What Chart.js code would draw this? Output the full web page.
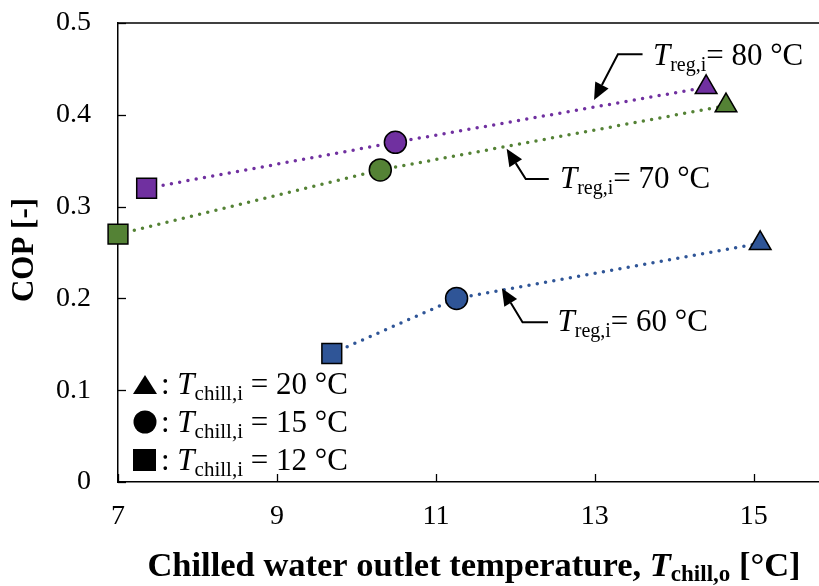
<!DOCTYPE html>
<html>
<head>
<meta charset="utf-8">
<script src="https://cdn.jsdelivr.net/npm/chart.js@4.4.1/dist/chart.umd.min.js"></script>
<style>
  html, body { margin: 0; padding: 0; background: #fff; }
  #wrap { width: 819px; height: 586px; }
</style>
</head>
<body>
<div id="wrap"><canvas id="c" width="819" height="586"></canvas></div>
<script>
// Axis ticks
const xTicks = [7, 9, 11, 13, 15];
const yTicks = [0, 0.1, 0.2, 0.3, 0.4, 0.5];

// Chilled water inlet temperature of each point (marker shape)
const chillInlet = [12, 15, 20];
const markerStyles = ['rect', 'circle', 'triangle'];

// Regeneration inlet temperatures
const regTemps = [80, 70, 60];

// Chilled water outlet temperature [°C] and COP [-] per regeneration temperature
const outlet80 = [7.36, 10.49, 14.40];
const cop80    = [0.32, 0.37, 0.43];
const outlet70 = [7.00, 10.30, 14.65];
const cop70    = [0.27, 0.34, 0.41];
const outlet60 = [9.69, 11.26, 15.08];
const cop60    = [0.14, 0.20, 0.26];

const SERIF = "'Liberation Serif', 'Times New Roman', serif";
const colors = { 80: '#7030A0', 70: '#548235', 60: '#2F5597' };

function pairs(xs, ys) { return xs.map((x, i) => ({ x: x, y: ys[i] })); }

function series(temp, xs, ys) {
  return {
    label: 'Treg,i = ' + temp + ' °C',
    data: pairs(xs, ys),
    showLine: true,
    borderColor: colors[temp],
    borderWidth: 3.5,
    borderDash: [0, 8.4],
    borderCapStyle: 'round',
    backgroundColor: colors[temp],
    pointBackgroundColor: colors[temp],
    pointBorderColor: '#000',
    pointBorderWidth: 1.5,
    pointStyle: markerStyles,
    pointRadius: [14, 11, 12.5],
    pointHoverRadius: [14, 11, 12.5],
    clip: false
  };
}

// Mixed-font text run: parts = [{t, font, dy}]
function runWidth(ctx, parts) {
  let w = 0;
  parts.forEach(p => { ctx.font = p.font; w += ctx.measureText(p.t).width; });
  return w;
}
function drawRun(ctx, x, y, parts) {
  ctx.textBaseline = 'alphabetic';
  ctx.textAlign = 'left';
  parts.forEach(p => {
    ctx.font = p.font;
    ctx.fillText(p.t, x, y + (p.dy || 0));
    x += ctx.measureText(p.t).width;
  });
  return x;
}

function regLabel(temp) {
  return [
    { t: 'T', font: 'italic 31px ' + SERIF },
    { t: 'reg,i', font: '20px ' + SERIF, dy: 6 },
    { t: '= ' + temp + ' °C', font: '31px ' + SERIF }
  ];
}

// Callouts: arrow tip, elbow, tail, text anchor (data coords)
const callouts = [
  { temp: 80, tip: [12.99, 0.416], elbow: [13.29, 0.466], tail: [13.60, 0.466], text: [13.73, 0.454] },
  { temp: 70, tip: [11.89, 0.363], elbow: [12.13, 0.330], tail: [12.42, 0.330], text: [12.56, 0.320] },
  { temp: 60, tip: [11.83, 0.211], elbow: [12.09, 0.174], tail: [12.41, 0.174], text: [12.53, 0.165] }
];

const decorations = {
  id: 'decorations',
  afterDraw(chart) {
    const ctx = chart.ctx;
    const xs = chart.scales.x, ys = chart.scales.y;
    const area = chart.chartArea;
    ctx.save();
    ctx.strokeStyle = '#000';
    ctx.fillStyle = '#000';

    // top frame line
    ctx.lineWidth = 1.5;
    ctx.beginPath();
    ctx.moveTo(area.left, area.top);
    ctx.lineTo(area.right, area.top);
    ctx.stroke();

    // inward tick marks
    ctx.lineWidth = 1.3;
    xTicks.forEach(v => {
      const px = Math.round(xs.getPixelForValue(v)) + 0.5;
      ctx.beginPath();
      ctx.moveTo(px, area.bottom);
      ctx.lineTo(px, area.bottom - 8);
      ctx.stroke();
    });
    yTicks.forEach(v => {
      const py = Math.round(ys.getPixelForValue(v)) + 0.5;
      ctx.beginPath();
      ctx.moveTo(area.left, py);
      ctx.lineTo(area.left + 8, py);
      ctx.stroke();
    });

    // callouts
    callouts.forEach(c => {
      const P = p => [xs.getPixelForValue(p[0]), ys.getPixelForValue(p[1])];
      const tip = P(c.tip), elbow = P(c.elbow), tail = P(c.tail);
      const ang = Math.atan2(tip[1] - elbow[1], tip[0] - elbow[0]);
      const len = 17, half = 7.5;
      const base = [tip[0] - len * Math.cos(ang), tip[1] - len * Math.sin(ang)];
      ctx.lineWidth = 2;
      ctx.beginPath();
      ctx.moveTo(tail[0], tail[1]);
      ctx.lineTo(elbow[0], elbow[1]);
      ctx.lineTo(base[0], base[1]);
      ctx.stroke();
      ctx.beginPath();
      ctx.moveTo(tip[0], tip[1]);
      ctx.lineTo(base[0] + half * Math.sin(ang), base[1] - half * Math.cos(ang));
      ctx.lineTo(base[0] - half * Math.sin(ang), base[1] + half * Math.cos(ang));
      ctx.closePath();
      ctx.fill();
      const t = P(c.text);
      drawRun(ctx, t[0], t[1], regLabel(c.temp));
    });

    // marker key (lower left)
    const kx = area.left + 15;
    const rows = [
      { shape: 'triangle', temp: chillInlet[2], base: area.bottom - 88 },
      { shape: 'circle', temp: chillInlet[1], base: area.bottom - 50 },
      { shape: 'rect', temp: chillInlet[0], base: area.bottom - 12 }
    ];
    rows.forEach(r => {
      const cy = r.base - 10;
      ctx.beginPath();
      if (r.shape === 'triangle') {
        ctx.moveTo(kx + 12, r.base - 19);
        ctx.lineTo(kx + 24, r.base);
        ctx.lineTo(kx, r.base);
        ctx.closePath();
      } else if (r.shape === 'circle') {
        ctx.arc(kx + 12, cy, 11.5, 0, Math.PI * 2);
      } else {
        ctx.rect(kx, cy - 11, 23, 22);
      }
      ctx.fill();
      drawRun(ctx, kx + 28, r.base, [
        { t: ': ', font: '31px ' + SERIF },
        { t: 'T', font: 'italic 31px ' + SERIF },
        { t: 'chill,i', font: '21px ' + SERIF, dy: 6 },
        { t: ' = ' + r.temp + ' °C', font: '31px ' + SERIF }
      ]);
    });

    // x axis title
    const xt = [
      { t: 'Chilled water outlet temperature, ', font: 'bold 34.5px ' + SERIF },
      { t: 'T', font: 'italic bold 34.5px ' + SERIF },
      { t: 'chill,o', font: 'bold 23px ' + SERIF, dy: 5 },
      { t: ' [°C]', font: 'bold 34.5px ' + SERIF }
    ];
    const w = runWidth(ctx, xt);
    drawRun(ctx, 474 - w / 2, 576, xt);

    // y axis title
    ctx.save();
    ctx.translate(25, 250);
    ctx.rotate(-Math.PI / 2);
    ctx.font = 'bold 31px ' + SERIF;
    ctx.textAlign = 'center';
    ctx.textBaseline = 'middle';
    ctx.fillText('COP [-]', 0, 0);
    ctx.restore();

    ctx.restore();
  }
};

new Chart(document.getElementById('c'), {
  type: 'scatter',
  data: {
    datasets: [
      series(regTemps[0], outlet80, cop80),
      series(regTemps[1], outlet70, cop70),
      series(regTemps[2], outlet60, cop60)
    ]
  },
  options: {
    responsive: false,
    devicePixelRatio: 1,
    animation: false,
    layout: { autoPadding: false, padding: { top: 23, left: 0, right: 0, bottom: 0 } },
    plugins: { legend: { display: false }, tooltip: { enabled: false } },
    scales: {
      x: {
        type: 'linear',
        min: 7,
        max: 15.82,
        afterBuildTicks: s => { s.ticks = xTicks.map(v => ({ value: v })); },
        afterFit: s => { s.height = 104; s.paddingLeft = 0; s.paddingRight = 0; },
        grid: { display: false, drawTicks: false },
        border: { display: true, color: '#000', width: 1.5 },
        ticks: { color: '#000', font: { family: SERIF, size: 28 }, padding: 18, maxRotation: 0 }
      },
      y: {
        type: 'linear',
        min: 0,
        max: 0.5,
        afterBuildTicks: s => { s.ticks = yTicks.map(v => ({ value: v })); },
        afterFit: s => { s.width = 118; s.paddingTop = 0; s.paddingBottom = 0; },
        grid: { display: false, drawTicks: false },
        border: { display: true, color: '#000', width: 1.5 },
        ticks: { color: '#000', font: { family: SERIF, size: 28 }, padding: 27 }
      }
    }
  },
  plugins: [decorations]
});
</script>
</body>
</html>
